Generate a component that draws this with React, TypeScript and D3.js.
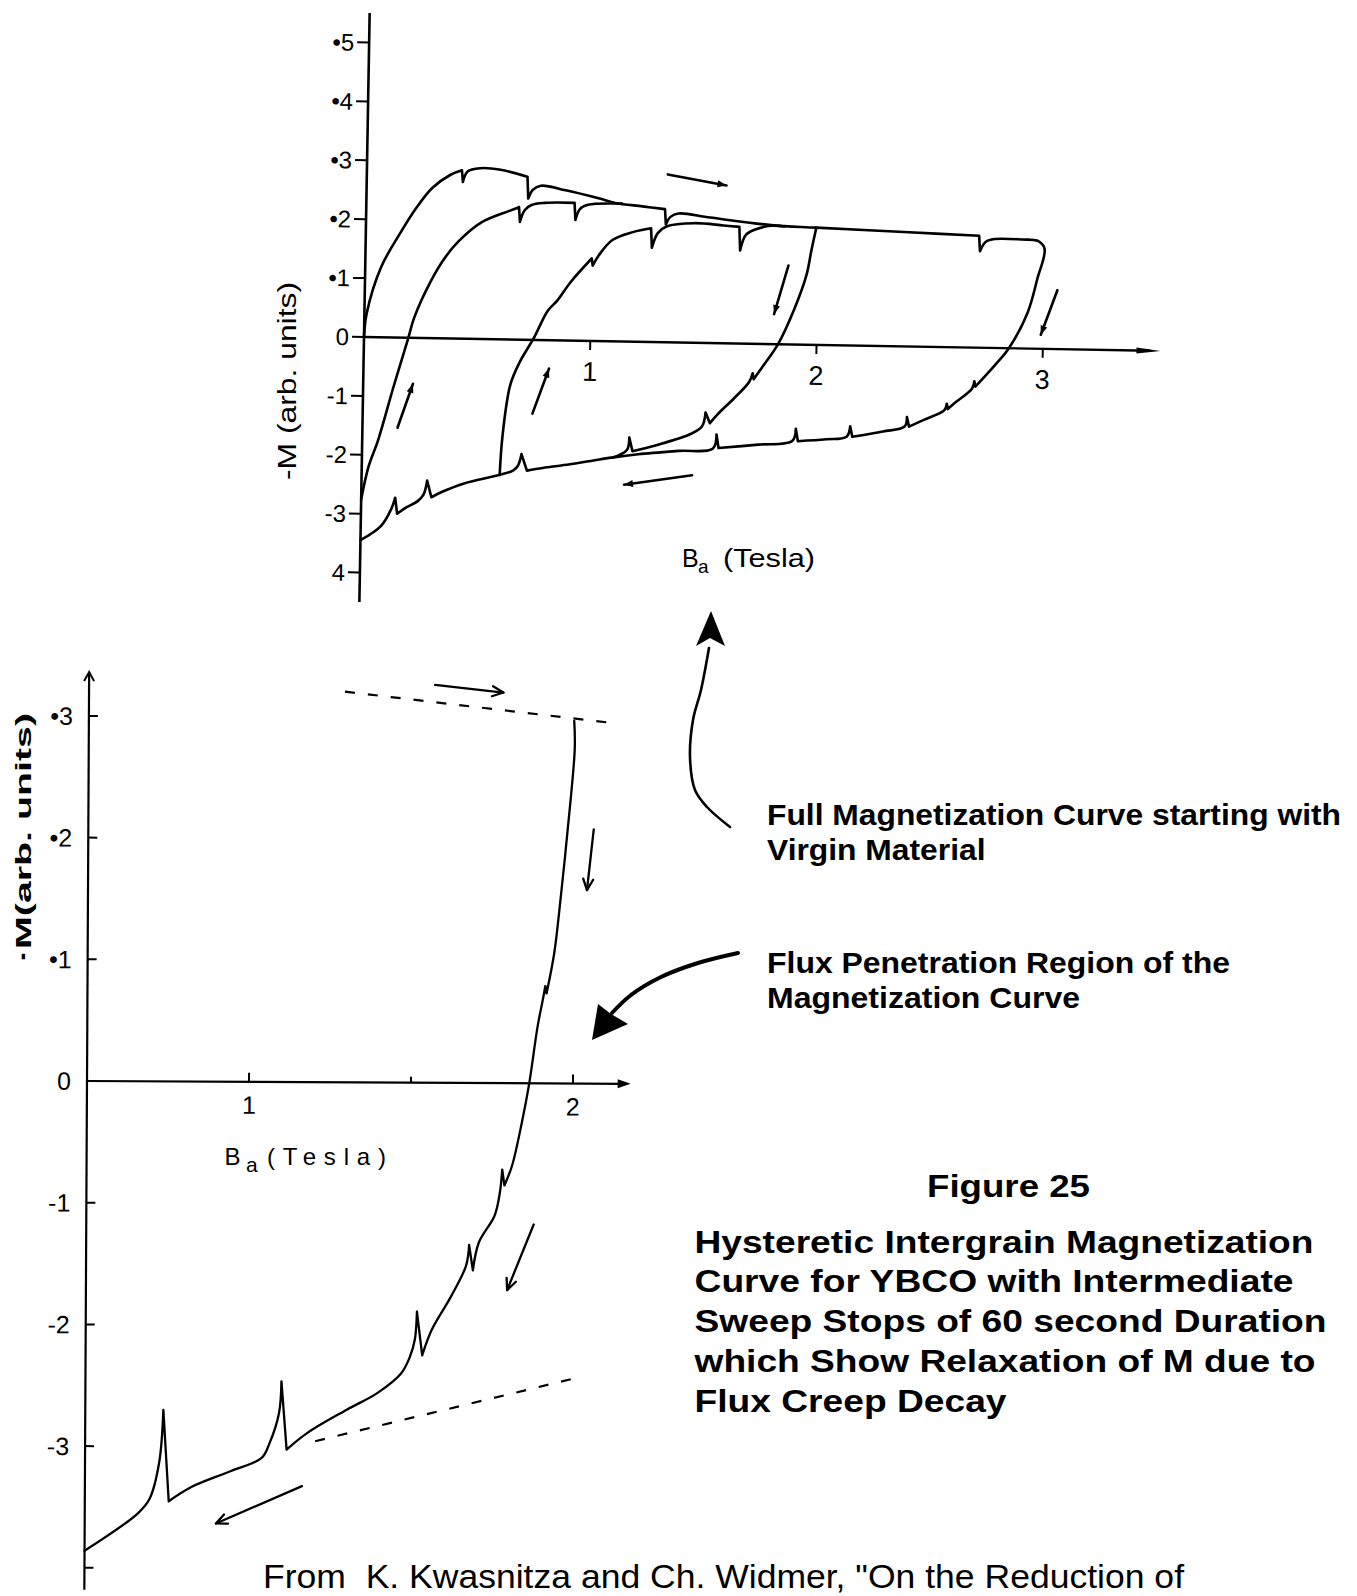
import React from 'react';
import * as d3 from 'd3';

type P = number[]; // [B, M] or [B, M, 1] (1 = sharp corner)

// ---------------- Top chart (full loops up to 3 T) ----------------
const topXTicks = [1, 2, 3];
const topXTickLabels = ['1', '2', '3'];
const topYTicks = [5, 4, 3, 2, 1, 0, -1, -2, -3, -4];
const topYTickLabels = ['•5', '•4', '•3', '•2', '•1', '0', '-1', '-2', '-3', '4'];

// virgin curve -> upper envelope -> 3 T reversal -> lower envelope down to 0 T
const topOuterLoop: P[] = [
  [0, 0], [0.01, 0.4], [0.07, 1.19], [0.15, 1.76], [0.22, 2.2], [0.29, 2.55], [0.37, 2.78],
  [0.42, 2.86, 1], [0.425, 2.66, 1], [0.445, 2.84], [0.5, 2.9], [0.59, 2.88],
  [0.71, 2.77, 1], [0.715, 2.4, 1], [0.735, 2.55], [0.77, 2.62], [0.88, 2.55], [1.03, 2.42],
  [1.1, 2.35], [1.22, 2.3], [1.32, 2.26, 1], [1.325, 2.0, 1], [1.345, 2.13], [1.38, 2.19],
  [1.52, 2.13], [1.79, 2.02], [1.99, 1.99], [2.4, 1.94],
  [2.71, 1.9, 1], [2.715, 1.64, 1], [2.74, 1.8], [2.78, 1.85], [2.9, 1.85], [2.97, 1.83],
  [3.0, 1.7], [2.97, 1.18], [2.93, 0.61], [2.85, 0.0], [2.79, -0.29],
  [2.705, -0.66, 1], [2.7, -0.57, 1], [2.69, -0.7], [2.62, -0.93],
  [2.585, -1.05, 1], [2.58, -0.96, 1], [2.57, -1.07], [2.48, -1.24],
  [2.415, -1.36, 1], [2.405, -1.2, 1], [2.395, -1.36], [2.3, -1.45],
  [2.165, -1.55, 1], [2.155, -1.37, 1], [2.14, -1.55], [2.05, -1.6],
  [1.925, -1.64, 1], [1.915, -1.43, 1], [1.9, -1.64], [1.75, -1.71],
  [1.575, -1.78, 1], [1.565, -1.55, 1], [1.55, -1.79], [1.4, -1.84], [1.22, -1.91],
  [1.11, -1.97], [0.92, -2.1], [0.8, -2.17],
  [0.73, -2.22, 1], [0.705, -1.94, 1], [0.69, -2.14], [0.67, -2.22], [0.61, -2.3],
  [0.45, -2.46], [0.36, -2.6],
  [0.31, -2.7, 1], [0.29, -2.42, 1], [0.275, -2.66], [0.25, -2.77], [0.2, -2.88],
  [0.16, -2.99, 1], [0.15, -2.72, 1], [0.135, -2.9], [0.09, -3.2], [0.0, -3.45],
];

// second rising branch, from 0 T
const topLoop2Rise: P[] = [
  [0, -2.76], [0.03, -2.2], [0.07, -1.75], [0.134, -0.84], [0.196, 0.0], [0.22, 0.34],
  [0.29, 0.96], [0.35, 1.36], [0.41, 1.65], [0.51, 1.98], [0.63, 2.18],
  [0.675, 2.25, 1], [0.68, 2.0, 1], [0.7, 2.2], [0.73, 2.29], [0.79, 2.33],
  [0.92, 2.34, 1], [0.925, 2.05, 1], [0.945, 2.24], [0.98, 2.31], [1.09, 2.34], [1.13, 2.34],
];

// third rising branch, from 0.6 T
const topLoop3Rise: P[] = [
  [0.61, -2.3], [0.62, -1.62], [0.65, -0.77], [0.69, -0.38], [0.75, 0.03], [0.81, 0.5],
  [0.85, 0.67], [0.91, 1.0], [1.0, 1.4, 1], [1.005, 1.28, 1], [1.03, 1.45], [1.09, 1.72],
  [1.18, 1.86], [1.26, 1.93, 1], [1.265, 1.6, 1], [1.29, 1.85], [1.33, 1.97], [1.45, 2.03],
  [1.58, 2.0], [1.65, 1.98, 1], [1.655, 1.58, 1], [1.68, 1.85], [1.72, 1.94], [1.79, 2.01],
  [1.85, 2.0],
];

// falling branch from 2 T
const topLoop3Fall: P[] = [
  [1.99, 1.99], [1.97, 1.6], [1.95, 1.18], [1.9, 0.61], [1.83, 0.0], [1.77, -0.35],
  [1.725, -0.6, 1], [1.72, -0.5, 1], [1.705, -0.65], [1.64, -0.93], [1.57, -1.2],
  [1.535, -1.36, 1], [1.515, -1.18, 1], [1.5, -1.42], [1.45, -1.55], [1.3, -1.75],
  [1.195, -1.86, 1], [1.18, -1.63, 1], [1.17, -1.84], [1.11, -1.97],
];

const topArrows: number[][][] = [
  [[1.33, 2.85], [1.59, 2.68]],
  [[1.87, 1.34], [1.81, 0.51]],
  [[3.06, 1.0], [2.99, 0.24]],
  [[1.46, -2.25], [1.16, -2.43]],
  [[0.155, -1.53], [0.22, -0.78]],
  [[0.75, -1.25], [0.82, -0.48]],
];

// ---------------- Bottom chart (flux penetration region) ----------------
const bottomXTicks = [1, 1.5, 2];
const bottomXTickLabels = ['1', '', '2'];
const bottomYTicks = [3, 2, 1, 0, -1, -2, -3, -4];
const bottomYTickLabels = ['•3', '•2', '•1', '0', '-1', '-2', '-3', ''];

const bottomFall: P[] = [
  [1.998, 2.98], [2.0, 2.75], [1.98, 2.1], [1.955, 1.42], [1.94, 1.07],
  [1.917, 0.74, 1], [1.913, 0.8, 1], [1.905, 0.68], [1.89, 0.47], [1.865, 0.0],
  [1.843, -0.32], [1.813, -0.68], [1.79, -0.84, 1], [1.783, -0.71, 1], [1.776, -0.9],
  [1.76, -1.09], [1.712, -1.31], [1.694, -1.54, 1], [1.682, -1.33, 1], [1.673, -1.5],
  [1.628, -1.75], [1.568, -2.03], [1.539, -2.24, 1], [1.522, -1.88, 1], [1.516, -2.11],
  [1.5, -2.26], [1.474, -2.39], [1.402, -2.55], [1.307, -2.69], [1.187, -2.88],
  [1.122, -3.02, 1], [1.105, -2.46, 1], [1.098, -2.72], [1.069, -2.97], [1.045, -3.09],
  [0.949, -3.2], [0.83, -3.33], [0.759, -3.45, 1], [0.741, -2.7, 1], [0.729, -3.13],
  [0.7, -3.43], [0.664, -3.55], [0.5, -3.86],
];
const bottomDashUpper = [[1.29, 3.21], [2.13, 2.96]];
const bottomDashLower = [[1.21, -2.95], [1.998, -2.43]];
const bottomArrows: number[][][] = [
  [[1.568, 3.27], [1.779, 3.21]],
  [[2.06, 2.09], [2.04, 1.59]],
  [[1.881, -1.16], [1.8, -1.7]],
  [[1.17, -3.32], [0.905, -3.63]],
];

// ---------------- annotation pointers (page pixels) ----------------
const pointerUp = [[730, 827], [707, 807], [695, 790], [690, 757], [693, 720], [701, 690], [709, 648]];
const pointerUpHead = [[711, 611], [696, 646], [710, 638], [725, 646]];
const pointerDown = [[738, 953], [698, 963], [661, 977], [631, 995], [612, 1013]];
const pointerDownHead = [[592, 1040], [598, 1004], [611, 1014], [628, 1024]];

const NARROW = "'Liberation Sans Narrow','Arial Narrow','Liberation Sans',Arial,Helvetica,sans-serif";
const SANS = "'Liberation Sans',Arial,Helvetica,sans-serif";

function splitRuns(pts: P[]): number[][][] {
  const runs: number[][][] = [];
  let cur: number[][] = [];
  pts.forEach((p) => {
    cur.push([p[0], p[1]]);
    if (p[2] === 1 && cur.length > 1) {
      runs.push(cur);
      cur = [[p[0], p[1]]];
    }
  });
  if (cur.length > 1) runs.push(cur);
  return runs;
}

function curvePath(pts: P[], sx: (v: number) => number, sy: (v: number) => number) {
  const gen = d3
    .line<number[]>()
    .x((d) => sx(d[0]))
    .y((d) => sy(d[1]))
    .curve(d3.curveCatmullRom.alpha(0.5));
  return splitRuns(pts).map((r) => gen(r) || '').join('');
}

function headPoints(x0: number, y0: number, x1: number, y1: number, L: number, W: number) {
  const len = Math.hypot(x1 - x0, y1 - y0) || 1;
  const ux = (x1 - x0) / len;
  const uy = (y1 - y0) / len;
  const bx = x1 - ux * L;
  const by = y1 - uy * L;
  const nx = -uy;
  const ny = ux;
  return [
    [x1, y1],
    [bx + (nx * W) / 2, by + (ny * W) / 2],
    [bx - (nx * W) / 2, by - (ny * W) / 2],
  ];
}

export default function App() {
  const topX = d3.scaleLinear().domain([0, 3]).range([364, 364 + 3 * 226.3]);
  const topY = d3.scaleLinear().domain([0, 5]).range([337, 337 - 5 * 58.9]);
  const botX = d3.scaleLinear().domain([0.5, 2]).range([87, 573]);
  const botY = d3.scaleLinear().domain([0, 3]).range([1081, 1081 - 3 * 121.7]);

  const smooth = d3.line<number[]>().x((d) => d[0]).y((d) => d[1]).curve(d3.curveCatmullRom.alpha(0.5));

  const topCurves = [topOuterLoop, topLoop2Rise, topLoop3Rise, topLoop3Fall];

  const tX0 = topX(0);
  const tY0 = topY(0);
  const topAxisEnd = topX(3.52);
  const bX0 = botX(0.5);
  const bY0 = botY(0);
  const botAxisEnd = botX(2.178);

  const stroke = '#000';

  return (
    <svg
      width={1357}
      height={1596}
      viewBox="0 0 1357 1596"
      style={{ position: 'absolute', left: 0, top: 0, background: '#fff' }}
    >
      <rect x={0} y={0} width={1357} height={1596} fill="#fff" />

      {/* ================= TOP CHART ================= */}
      <g transform={`rotate(1 ${tX0} ${tY0})`}>
        <line x1={tX0} y1={topY(5.5)} x2={tX0} y2={topY(-4.5)} stroke={stroke} strokeWidth={2.6} />
        <line x1={tX0} y1={tY0} x2={topAxisEnd - 10} y2={tY0} stroke={stroke} strokeWidth={2.4} />
        <polygon
          points={headPoints(tX0, tY0, topAxisEnd, tY0, 24, 6).map((p) => p.join(',')).join(' ')}
          fill={stroke}
        />
        {topYTicks.map((v, i) => (
          <g key={'ty' + v}>
            <line x1={tX0 - 12} y1={topY(v)} x2={tX0} y2={topY(v)} stroke={stroke} strokeWidth={2} />
            <text
              x={tX0 - 15}
              y={topY(v) + 8.5}
              textAnchor="end"
              fontFamily={NARROW}
              fontSize={24}
              fill={stroke}
            >
              {topYTickLabels[i]}
            </text>
          </g>
        ))}
        {topXTicks.map((v, i) => (
          <g key={'tx' + v}>
            <line x1={topX(v)} y1={tY0} x2={topX(v)} y2={tY0 + 9} stroke={stroke} strokeWidth={2} />
            <text x={topX(v)} y={tY0 + 40} textAnchor="middle" fontFamily={NARROW} fontSize={27} fill={stroke}>
              {topXTickLabels[i]}
            </text>
          </g>
        ))}
        {topCurves.map((c, i) => (
          <path
            key={'tc' + i}
            d={curvePath(c, topX, topY)}
            fill="none"
            stroke={stroke}
            strokeWidth={2.6}
            strokeLinecap="round"
            strokeLinejoin="round"
          />
        ))}
        {topArrows.map((a, i) => {
          const x0 = topX(a[0][0]);
          const y0 = topY(a[0][1]);
          const x1 = topX(a[1][0]);
          const y1 = topY(a[1][1]);
          return (
            <g key={'ta' + i}>
              <line x1={x0} y1={y0} x2={x1} y2={y1} stroke={stroke} strokeWidth={2.6} strokeLinecap="round" />
              <polygon points={headPoints(x0, y0, x1, y1, 9, 7).map((p) => p.join(',')).join(' ')} fill={stroke} />
            </g>
          );
        })}
      </g>
      <text
        transform="translate(296,381) rotate(-90)"
        textAnchor="middle"
        fontFamily={NARROW}
        fontSize={25}
        textLength={198}
        lengthAdjust="spacingAndGlyphs"
        fill={stroke}
      >
        -M (arb. units)
      </text>
      <text x={682} y={567} fontFamily={NARROW} fontSize={25} fill={stroke}>
        B
      </text>
      <text x={698} y={573} fontFamily={NARROW} fontSize={19} fill={stroke}>
        a
      </text>
      <text x={723} y={567} fontFamily={NARROW} fontSize={25} textLength={92} lengthAdjust="spacingAndGlyphs" fill={stroke}>
        (Tesla)
      </text>

      {/* ================= BOTTOM CHART ================= */}
      <g transform={`rotate(0.3 ${bX0} ${bY0})`}>
        <line x1={bX0} y1={botY(3.36)} x2={bX0} y2={botY(-4.18)} stroke={stroke} strokeWidth={2.2} />
        <polyline
          points={[
            [bX0 - 5, botY(3.36) + 9],
            [bX0, botY(3.36)],
            [bX0 + 5, botY(3.36) + 9],
          ]
            .map((p) => p.join(','))
            .join(' ')}
          fill="none"
          stroke={stroke}
          strokeWidth={2}
        />
        <line x1={bX0} y1={bY0} x2={botAxisEnd - 8} y2={bY0} stroke={stroke} strokeWidth={2.2} />
        <polygon points={headPoints(bX0, bY0, botAxisEnd, bY0, 13, 9).map((p) => p.join(',')).join(' ')} fill={stroke} />
        {bottomYTicks.map((v, i) => (
          <g key={'by' + v}>
            <line x1={bX0} y1={botY(v)} x2={bX0 + 9} y2={botY(v)} stroke={stroke} strokeWidth={2} />
            <text x={71} y={botY(v) + 9} textAnchor="end" fontFamily={SANS} fontSize={25} fill={stroke}>
              {bottomYTickLabels[i]}
            </text>
          </g>
        ))}
        {bottomXTicks.map((v, i) => (
          <g key={'bx' + v}>
            <line
              x1={botX(v)}
              y1={bY0}
              x2={botX(v)}
              y2={bY0 - (bottomXTickLabels[i] ? 9 : 6)}
              stroke={stroke}
              strokeWidth={2}
            />
            <text x={botX(v)} y={bY0 + 32} textAnchor="middle" fontFamily={SANS} fontSize={25} fill={stroke}>
              {bottomXTickLabels[i]}
            </text>
          </g>
        ))}
        <path
          d={curvePath(bottomFall, botX, botY)}
          fill="none"
          stroke={stroke}
          strokeWidth={2.3}
          strokeLinecap="round"
          strokeLinejoin="round"
        />
        {[bottomDashUpper, bottomDashLower].map((d, i) => (
          <line
            key={'bd' + i}
            x1={botX(d[0][0])}
            y1={botY(d[0][1])}
            x2={botX(d[1][0])}
            y2={botY(d[1][1])}
            stroke={stroke}
            strokeWidth={2.2}
            strokeDasharray="10 13"
          />
        ))}
        {bottomArrows.map((a, i) => {
          const x0 = botX(a[0][0]);
          const y0 = botY(a[0][1]);
          const x1 = botX(a[1][0]);
          const y1 = botY(a[1][1]);
          const h = headPoints(x0, y0, x1, y1, 11, 10);
          return (
            <g key={'ba' + i}>
              <line x1={x0} y1={y0} x2={x1} y2={y1} stroke={stroke} strokeWidth={2.3} strokeLinecap="round" />
              <polyline
                points={[h[1], h[0], h[2]].map((p) => p.join(',')).join(' ')}
                fill="none"
                stroke={stroke}
                strokeWidth={2.3}
                strokeLinecap="round"
                strokeLinejoin="round"
              />
            </g>
          );
        })}
      </g>
      <text
        transform="translate(31,837.5) rotate(-90)"
        textAnchor="middle"
        fontFamily={SANS}
        fontWeight="bold"
        fontSize={22}
        textLength={249}
        lengthAdjust="spacingAndGlyphs"
        fill={stroke}
      >
        ·M(arb. units)
      </text>
      <text x={224.6} y={1165} fontFamily={SANS} fontSize={24} fill={stroke}>
        B
      </text>
      <text x={246} y={1172} fontFamily={SANS} fontSize={21} fill={stroke}>
        a
      </text>
      <text x={267} y={1165} fontFamily={SANS} fontSize={24} textLength={119} lengthAdjust="spacing" fill={stroke}>
        (Tesla)
      </text>

      {/* ================= annotation pointers ================= */}
      <path d={smooth(pointerUp) || ''} fill="none" stroke={stroke} strokeWidth={2.6} strokeLinecap="round" />
      <polygon points={pointerUpHead.map((p) => p.join(',')).join(' ')} fill={stroke} />
      <path d={smooth(pointerDown) || ''} fill="none" stroke={stroke} strokeWidth={4} strokeLinecap="round" />
      <polygon points={pointerDownHead.map((p) => p.join(',')).join(' ')} fill={stroke} />

      {/* ================= texts ================= */}
      <g fontFamily={NARROW} fontWeight="bold" fill={stroke}>
        <text x={767} y={825} fontSize={30} textLength={574} lengthAdjust="spacingAndGlyphs">
          Full Magnetization Curve starting with
        </text>
        <text x={767} y={860} fontSize={30} textLength={218.5} lengthAdjust="spacingAndGlyphs">
          Virgin Material
        </text>
        <text x={767} y={973} fontSize={30} textLength={463} lengthAdjust="spacingAndGlyphs">
          Flux Penetration Region of the
        </text>
        <text x={767} y={1008} fontSize={30} textLength={313} lengthAdjust="spacingAndGlyphs">
          Magnetization Curve
        </text>
        <text x={927} y={1197} fontSize={31} textLength={163} lengthAdjust="spacingAndGlyphs">
          Figure 25
        </text>
        <text x={694.5} y={1252.5} fontSize={31} textLength={619} lengthAdjust="spacingAndGlyphs">
          Hysteretic Intergrain Magnetization
        </text>
        <text x={694.5} y={1292} fontSize={31} textLength={599} lengthAdjust="spacingAndGlyphs">
          Curve for YBCO with Intermediate
        </text>
        <text x={694.5} y={1332} fontSize={31} textLength={632} lengthAdjust="spacingAndGlyphs">
          Sweep Stops of 60 second Duration
        </text>
        <text x={694.5} y={1372} fontSize={31} textLength={621} lengthAdjust="spacingAndGlyphs">
          which Show Relaxation of M due to
        </text>
        <text x={694.5} y={1411.6} fontSize={31} textLength={312} lengthAdjust="spacingAndGlyphs">
          Flux Creep Decay
        </text>
      </g>
      <text
        x={263}
        y={1588}
        fontFamily={NARROW}
        fontSize={34}
        textLength={921}
        lengthAdjust="spacingAndGlyphs"
        fill={stroke}
        style={{ whiteSpace: 'pre' }}
      >
        {'From  K. Kwasnitza and Ch. Widmer, "On the Reduction of'}
      </text>
    </svg>
  );
}
